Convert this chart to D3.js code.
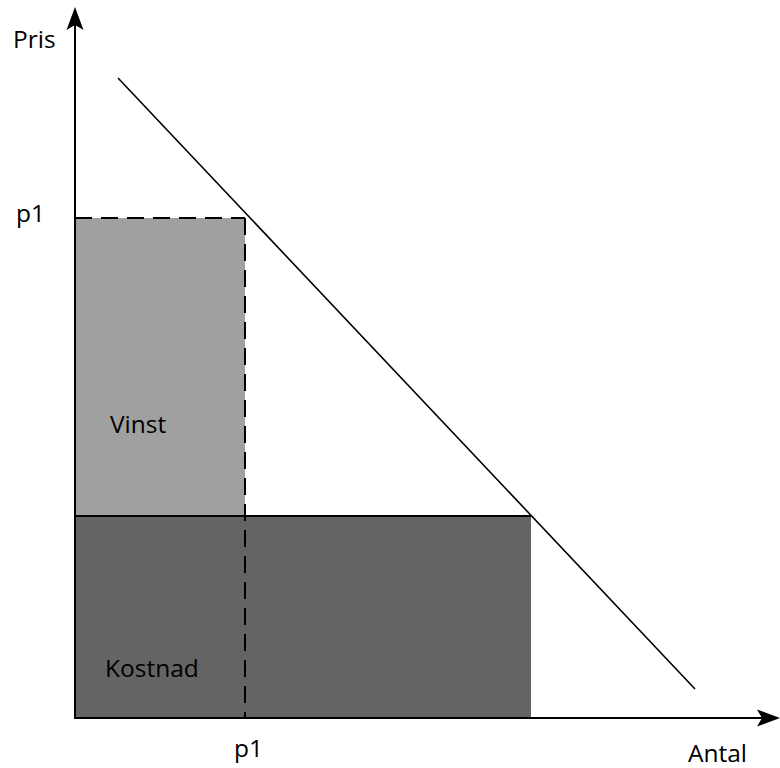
<!DOCTYPE html>
<html>
<head>
<meta charset="utf-8">
<script src="https://cdn.jsdelivr.net/npm/d3@7"></script>
<style>
  body { margin: 0; background: #fff; }
  text { font-family: "Open Sans", sans-serif; font-size: 24.5px; fill: #000; }
</style>
</head>
<body>
<script>
// values in chart units (quantity, price)
const axisMax = { q: 705, p: 711 };
const demand = [{ q: 43, p: 640 }, { q: 620, p: 29 }];
const p1 = 500, q1 = 170;
const costPrice = 202, costQty = 456;
const labels = { y: "Pris", x: "Antal", price: "p1", qty: "p1", profit: "Vinst", cost: "Kostnad" };

let svgWidth = 780;
let svgHeight = 768;

let svg = d3.select('body')
  .append('svg')
  .attr('width', svgWidth)
  .attr('height', svgHeight);

let x = d3.scaleLinear().domain([0, 700]).range([75, 775]);
let y = d3.scaleLinear().domain([0, 700]).range([718, 18]);

// cost rect
svg.append('rect')
  .attr('x', x(0))
  .attr('y', y(costPrice))
  .attr('width', x(costQty) - x(0))
  .attr('height', y(0) - y(costPrice))
  .attr('fill', '#646464');

// profit rect
svg.append('rect')
  .attr('x', x(0))
  .attr('y', y(p1))
  .attr('width', x(q1) - x(0))
  .attr('height', y(costPrice) - y(p1))
  .attr('fill', '#a0a0a0');

// cost line
svg.append('line')
  .attr('x1', x(0)).attr('x2', x(costQty))
  .attr('y1', y(costPrice)).attr('y2', y(costPrice))
  .attr('stroke', '#000').attr('stroke-width', 2);

// dashed guides
svg.append('line')
  .attr('x1', x(0)).attr('x2', x(q1))
  .attr('y1', y(p1)).attr('y2', y(p1))
  .attr('stroke', '#000').attr('stroke-width', 2)
  .attr('stroke-dasharray', '17,9');

svg.append('line')
  .attr('x1', x(q1)).attr('x2', x(q1))
  .attr('y1', y(p1)).attr('y2', y(0))
  .attr('stroke', '#000').attr('stroke-width', 2)
  .attr('stroke-dasharray', '17,9');

// demand line
svg.append('path')
  .datum(demand)
  .attr('d', d3.line().x(d => x(d.q)).y(d => y(d.p)))
  .attr('fill', 'none')
  .attr('stroke', '#000')
  .attr('stroke-width', 1.6);

// axes
svg.append('line')
  .attr('x1', x(0)).attr('x2', x(0))
  .attr('y1', y(0) + 1).attr('y2', y(axisMax.p) + 12)
  .attr('stroke', '#000').attr('stroke-width', 2);

svg.append('line')
  .attr('x1', x(0) - 1).attr('x2', x(axisMax.q) - 12)
  .attr('y1', y(0)).attr('y2', y(0))
  .attr('stroke', '#000').attr('stroke-width', 2);

// arrow heads
let yt = [x(0), y(axisMax.p)];
svg.append('path')
  .attr('d', `M${yt[0]},${yt[1]} L${yt[0] + 8.5},${yt[1] + 23} L${yt[0]},${yt[1] + 18} L${yt[0] - 8.5},${yt[1] + 23} Z`)
  .attr('fill', '#000');

let xt = [x(axisMax.q), y(0)];
svg.append('path')
  .attr('d', `M${xt[0]},${xt[1]} L${xt[0] - 23},${xt[1] - 8.5} L${xt[0] - 18},${xt[1]} L${xt[0] - 23},${xt[1] + 8.5} Z`)
  .attr('fill', '#000');

// labels
svg.append('text').attr('x', 13).attr('y', 48).text(labels.y);
svg.append('text').attr('x', 688).attr('y', 762).text(labels.x);
svg.append('text').attr('x', 16).attr('y', 222).text(labels.price);
svg.append('text').attr('x', x(q1) - 11).attr('y', 757).text(labels.qty);
svg.append('text').attr('x', 110).attr('y', 433).text(labels.profit);
svg.append('text').attr('x', 105).attr('y', 677).text(labels.cost);
</script>
</body>
</html>
